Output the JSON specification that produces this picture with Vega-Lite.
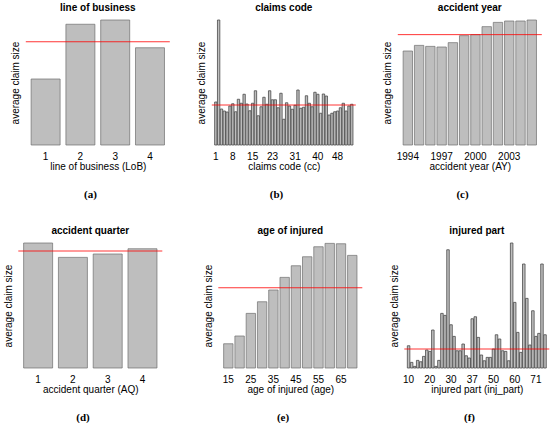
{
  "$schema": "https://vega.github.io/schema/vega-lite/v6.json",
  "padding": {"left": 3, "top": 3, "right": 0, "bottom": 0},
  "config": {
    "view": {"stroke": null},
    "font": "Liberation Sans",
    "axis": {"grid": false, "domain": false, "ticks": false, "labelFontSize": 10, "titleFontSize": 10, "titleFontWeight": "normal", "labelColor": "#000", "titleColor": "#000", "labelPadding": 1, "titlePadding": 0, "minExtent": 0, "labelAngle": 0, "labelOverlap": false},
    "axisY": {"labels": false, "titlePadding": 5},
    "title": {"fontSize": 10, "fontWeight": "bold", "offset": 2, "color": "#000", "anchor": "middle"},
    "bar": {"fill": "#bebebe", "stroke": "#6e6e6e", "strokeWidth": 0.7},
    "rule": {"color": "#ff0000", "strokeWidth": 0.8},
    "concat": {"spacing": 26}
  },
  "datasets": {
    "lob": [
      {"level": 1, "size": 52.8}, {"level": 2, "size": 96.6}, {"level": 3, "size": 100}, {"level": 4, "size": 77.8}
    ],
    "cc": [
      {"level": 1, "size": 34.4}, {"level": 2, "size": 100}, {"level": 3, "size": 28.8}, {"level": 4, "size": 27.2},
      {"level": 5, "size": 26.4}, {"level": 6, "size": 31.2}, {"level": 8, "size": 33.0}, {"level": 9, "size": 26.6},
      {"level": 10, "size": 36.6}, {"level": 11, "size": 33.4}, {"level": 12, "size": 40.6}, {"level": 13, "size": 32.8},
      {"level": 14, "size": 27.4}, {"level": 15, "size": 33.4}, {"level": 16, "size": 43.4}, {"level": 17, "size": 23.4},
      {"level": 18, "size": 30.6}, {"level": 19, "size": 38.2}, {"level": 20, "size": 32.6}, {"level": 21, "size": 43.4},
      {"level": 23, "size": 36.2}, {"level": 24, "size": 36.2}, {"level": 25, "size": 29.8}, {"level": 26, "size": 41.4},
      {"level": 27, "size": 20.6}, {"level": 28, "size": 33.8}, {"level": 29, "size": 31.2}, {"level": 30, "size": 28.6},
      {"level": 31, "size": 31.8}, {"level": 32, "size": 44.0}, {"level": 33, "size": 29.4}, {"level": 34, "size": 30.2},
      {"level": 35, "size": 39.4}, {"level": 36, "size": 33.4}, {"level": 37, "size": 30.6}, {"level": 38, "size": 42.2},
      {"level": 40, "size": 40.6}, {"level": 41, "size": 25.4}, {"level": 42, "size": 40.8}, {"level": 43, "size": 39.2},
      {"level": 44, "size": 24.0}, {"level": 45, "size": 25.4}, {"level": 46, "size": 26.6}, {"level": 48, "size": 27.2},
      {"level": 49, "size": 29.8}, {"level": 50, "size": 33.4}, {"level": 51, "size": 27.2}, {"level": 52, "size": 31.2},
      {"level": 53, "size": 32.6}
    ],
    "ay": [
      {"level": 1994, "size": 75.2}, {"level": 1995, "size": 79.7}, {"level": 1996, "size": 78.9}, {"level": 1997, "size": 78.4},
      {"level": 1998, "size": 81.9}, {"level": 1999, "size": 87.5}, {"level": 2000, "size": 88.3}, {"level": 2001, "size": 94.7},
      {"level": 2002, "size": 98.1}, {"level": 2003, "size": 99.2}, {"level": 2004, "size": 99.2}, {"level": 2005, "size": 100}
    ],
    "aq": [
      {"level": 1, "size": 100}, {"level": 2, "size": 88.5}, {"level": 3, "size": 91.2}, {"level": 4, "size": 95.4}
    ],
    "age": [
      {"level": 15, "size": 19.4}, {"level": 20, "size": 25.6}, {"level": 25, "size": 43.7}, {"level": 30, "size": 53.0},
      {"level": 35, "size": 62.4}, {"level": 40, "size": 72.5}, {"level": 45, "size": 81.8}, {"level": 50, "size": 89.0},
      {"level": 55, "size": 97.0}, {"level": 60, "size": 99.7}, {"level": 65, "size": 99.4}, {"level": 70, "size": 90.1}
    ],
    "part": [
      {"level": 10, "size": 17.8}, {"level": 12, "size": 4.5}, {"level": 13, "size": 1.3}, {"level": 14, "size": 6.1},
      {"level": 15, "size": 5.0}, {"level": 16, "size": 9.3}, {"level": 19, "size": 14.4}, {"level": 20, "size": 13.3},
      {"level": 21, "size": 30.4}, {"level": 22, "size": 1.3}, {"level": 23, "size": 6.1}, {"level": 24, "size": 43.7},
      {"level": 25, "size": 42.1}, {"level": 26, "size": 94.6}, {"level": 30, "size": 34.6}, {"level": 31, "size": 25.3},
      {"level": 32, "size": 13.8}, {"level": 33, "size": 13.8}, {"level": 34, "size": 19.2}, {"level": 35, "size": 9.8},
      {"level": 36, "size": 8.0}, {"level": 37, "size": 39.4}, {"level": 38, "size": 41.0}, {"level": 39, "size": 24.5},
      {"level": 40, "size": 10.4}, {"level": 41, "size": 5.8}, {"level": 42, "size": 8.5}, {"level": 48, "size": 8.5},
      {"level": 50, "size": 15.2}, {"level": 51, "size": 26.6}, {"level": 52, "size": 23.2}, {"level": 53, "size": 13.8},
      {"level": 54, "size": 13.3}, {"level": 55, "size": 5.8}, {"level": 56, "size": 100}, {"level": 60, "size": 52.5},
      {"level": 61, "size": 28.5}, {"level": 62, "size": 12.5}, {"level": 63, "size": 83.2}, {"level": 64, "size": 55.7},
      {"level": 65, "size": 18.4}, {"level": 66, "size": 45.8}, {"level": 71, "size": 25.3}, {"level": 72, "size": 27.7},
      {"level": 73, "size": 83.2}, {"level": 74, "size": 26.6}
    ]
  },
  "center": true,
  "spacing": 26,
  "vconcat": [
    {
      "hconcat": [
        {
          "title": {"text": "(a)", "orient": "bottom", "anchor": "middle", "font": "Liberation Serif", "fontSize": 11, "offset": 18},
          "vconcat": [{
            "title": "line of business",
            "width": 144, "height": 135,
            "layer": [
              {
                "data": {"name": "lob"},
                "mark": "bar",
                "encoding": {
                  "x": {"field": "level", "type": "ordinal", "sort": null, "scale": {"paddingInner": 0.1667, "paddingOuter": 0.153}, "axis": {"title": "line of business (LoB)"}},
                  "y": {"field": "size", "type": "quantitative", "scale": {"domain": [-4, 104], "nice": false, "zero": false}, "axis": {"title": "average claim size"}},
                  "y2": {"datum": 0}
                }
              },
              {
                "data": {"values": [{"size": 82.6}]},
                "mark": "rule",
                "encoding": {"y": {"field": "size", "type": "quantitative", "title": "average claim size"}}
              }
            ]
          }]
        },
        {
          "title": {"text": "(b)", "orient": "bottom", "anchor": "middle", "font": "Liberation Serif", "fontSize": 11, "offset": 18},
          "vconcat": [{
            "title": "claims code",
            "width": 144, "height": 135,
            "layer": [
              {
                "data": {"name": "cc"},
                "mark": {"type": "bar", "stroke": "#4a4a4a", "strokeWidth": 0.8},
                "encoding": {
                  "x": {"field": "level", "type": "ordinal", "sort": null, "scale": {"paddingInner": 0.1667, "paddingOuter": 1.953}, "axis": {"title": "claims code (cc)", "values": [1, 8, 15, 23, 31, 40, 48]}},
                  "y": {"field": "size", "type": "quantitative", "scale": {"domain": [-4, 104], "nice": false, "zero": false}, "axis": {"title": "average claim size"}},
                  "y2": {"datum": 0}
                }
              },
              {
                "data": {"values": [{"size": 32.0}]},
                "mark": "rule",
                "encoding": {"y": {"field": "size", "type": "quantitative", "title": "average claim size"}}
              }
            ]
          }]
        },
        {
          "title": {"text": "(c)", "orient": "bottom", "anchor": "middle", "font": "Liberation Serif", "fontSize": 11, "offset": 18},
          "vconcat": [{
            "title": "accident year",
            "width": 144, "height": 135,
            "layer": [
              {
                "data": {"name": "ay"},
                "mark": "bar",
                "encoding": {
                  "x": {"field": "level", "type": "ordinal", "sort": null, "scale": {"paddingInner": 0.1667, "paddingOuter": 0.473}, "axis": {"title": "accident year (AY)", "values": [1994, 1997, 2000, 2003]}},
                  "y": {"field": "size", "type": "quantitative", "scale": {"domain": [-4, 104], "nice": false, "zero": false}, "axis": {"title": "average claim size"}},
                  "y2": {"datum": 0}
                }
              },
              {
                "data": {"values": [{"size": 88.3}]},
                "mark": "rule",
                "encoding": {"y": {"field": "size", "type": "quantitative", "title": "average claim size"}}
              }
            ]
          }]
        }
      ]
    },
    {
      "spacing": 40,
      "hconcat": [
        {
          "title": {"text": "(d)", "orient": "bottom", "anchor": "middle", "font": "Liberation Serif", "fontSize": 11, "offset": 18},
          "vconcat": [{
            "title": "accident quarter",
            "width": 144, "height": 135,
            "layer": [
              {
                "data": {"name": "aq"},
                "mark": "bar",
                "encoding": {
                  "x": {"field": "level", "type": "ordinal", "sort": null, "scale": {"paddingInner": 0.1667, "paddingOuter": 0.153}, "axis": {"title": "accident quarter (AQ)"}},
                  "y": {"field": "size", "type": "quantitative", "scale": {"domain": [-4, 104], "nice": false, "zero": false}, "axis": {"title": "average claim size"}},
                  "y2": {"datum": 0}
                }
              },
              {
                "data": {"values": [{"size": 93.6}]},
                "mark": "rule",
                "encoding": {"y": {"field": "size", "type": "quantitative", "title": "average claim size"}}
              }
            ]
          }]
        },
        {
          "spacing": 26,
          "hconcat": [
            {
              "title": {"text": "(e)", "orient": "bottom", "anchor": "middle", "font": "Liberation Serif", "fontSize": 11, "offset": 18},
              "vconcat": [{
                "title": "age of injured",
                "width": 144, "height": 135,
                "layer": [
                  {
                    "data": {"name": "age"},
                    "mark": "bar",
                    "encoding": {
                      "x": {"field": "level", "type": "ordinal", "sort": null, "scale": {"paddingInner": 0.1667, "paddingOuter": 0.473}, "axis": {"title": "age of injured (age)", "values": [15, 25, 35, 45, 55, 65]}},
                      "y": {"field": "size", "type": "quantitative", "scale": {"domain": [-4, 104], "nice": false, "zero": false}, "axis": {"title": "average claim size"}},
                      "y2": {"datum": 0}
                    }
                  },
                  {
                    "data": {"values": [{"size": 64.2}]},
                    "mark": "rule",
                    "encoding": {"y": {"field": "size", "type": "quantitative", "title": "average claim size"}}
                  }
                ]
              }]
            },
            {
              "title": {"text": "(f)", "orient": "bottom", "anchor": "middle", "font": "Liberation Serif", "fontSize": 11, "offset": 18},
              "vconcat": [{
                "title": "injured part",
                "width": 145, "height": 135,
                "layer": [
                  {
                    "data": {"name": "part"},
                    "mark": {"type": "bar", "stroke": "#4a4a4a", "strokeWidth": 0.8},
                    "encoding": {
                      "x": {"field": "level", "type": "ordinal", "sort": null, "scale": {"paddingInner": 0.1667, "paddingOuter": 1.833}, "axis": {"title": "injured part (inj_part)", "values": [10, 20, 30, 37, 50, 60, 71]}},
                      "y": {"field": "size", "type": "quantitative", "scale": {"domain": [-4, 104], "nice": false, "zero": false}, "axis": {"title": "average claim size"}},
                      "y2": {"datum": 0}
                    }
                  },
                  {
                    "data": {"values": [{"size": 15.2}]},
                    "mark": "rule",
                    "encoding": {"y": {"field": "size", "type": "quantitative", "title": "average claim size"}}
                  }
                ]
              }]
            }
          ]
        }
      ]
    }
  ]
}
